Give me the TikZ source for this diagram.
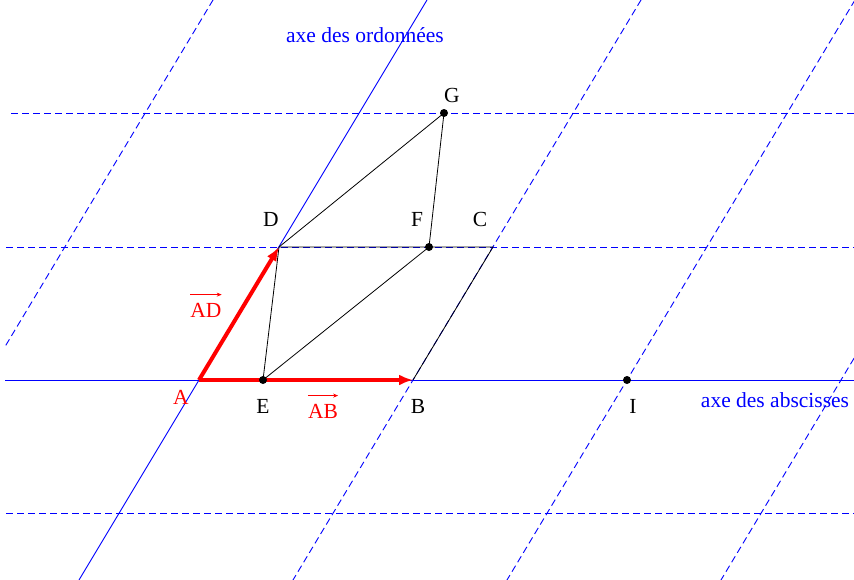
\documentclass[tikz,border=0pt]{standalone}
\usepackage{fontspec}
\setmainfont{Liberation Serif}
\usetikzlibrary{arrows.meta}
\definecolor{gridblue}{RGB}{0,0,255}
\begin{document}
\begin{tikzpicture}[x=1pt,y=-1pt,
  font=\fontsize{21.5}{26}\selectfont,
  gridline/.style={draw=gridblue, line width=0.9pt, dash pattern=on 7pt off 4pt},
  axisline/.style={draw=gridblue, line width=0.9pt},
  seg/.style={black, line width=0.8pt},
  vec/.style={red, line width=4pt, -{Latex[length=14pt,width=11pt]}},
  dot/.style={circle, fill=black, inner sep=0pt, minimum size=8pt},
  lbl/.style={inner sep=0pt, anchor=base},
  overarr/.style={red, line width=0.8pt, -{Stealth[length=5pt,width=4pt]}}]
\useasboundingbox (0,0) rectangle (854,579);
% points
\coordinate (A) at (199,380);
\coordinate (B) at (413,380);
\coordinate (C) at (493,247);
\coordinate (D) at (279,247);
\coordinate (E) at (263,380);
\coordinate (F) at (429,247);
\coordinate (G) at (444,113);
\coordinate (I) at (627,380);
% ends of the grid lines
\coordinate (h1a) at (11,113);  \coordinate (h1b) at (854,113);
\coordinate (h2a) at (6,247);   \coordinate (h2b) at (854,247);
\coordinate (h4a) at (6,513);   \coordinate (h4b) at (854,513);
\coordinate (xa) at (5,380);    \coordinate (xb) at (854,380);
\coordinate (o0a) at (-147,600); \coordinate (o0b) at (225,-20);
\coordinate (o2a) at (281,600); \coordinate (o2b) at (653,-20);
\coordinate (o3a) at (495,600); \coordinate (o3b) at (867,-20);
\coordinate (o4a) at (709,600); \coordinate (o4b) at (1081,-20);
\coordinate (ya) at (79,580);   \coordinate (yb) at (427,0);
\begin{scope}
\clip (5,0) rectangle (854,579);
\draw[gridline] (h1a) -- (h1b);
\draw[gridline] (h2a) -- (h2b);
\draw[gridline] (h4a) -- (h4b);
\draw[gridline] (o0a) -- (o0b);
\draw[gridline] (o2a) -- (o2b);
\draw[gridline] (o3a) -- (o3b);
\draw[gridline] (o4a) -- (o4b);
\draw[axisline] (xa) -- (xb);
\draw[axisline] (ya) -- (yb);
\end{scope}
% figure
\draw[seg] (D) -- (C) -- (B);
\draw[seg] (D) -- (E) -- (F) -- (G) -- (D);
\draw[vec] (A) -- (B);
\draw[vec] (A) -- (D);
\node[dot] (dE) at (E) {};
\node[dot] (dF) at (F) {};
\node[dot] (dG) at (G) {};
\node[dot] (dI) at (I) {};
% labels
\node[lbl] (lG) at (452,102) {G};
\node[lbl] (lD) at (271,226) {D};
\node[lbl] (lF) at (417,226) {F};
\node[lbl] (lC) at (480,226) {C};
\node[lbl, red] (lA) at (181,404) {A};
\node[lbl] (lE) at (263,413) {E};
\node[lbl] (lB) at (418,413) {B};
\node[lbl] (lI) at (633,413) {I};
\node[lbl, red] (lAD) at (206,317) {AD};
\draw[overarr] ([yshift=8pt]lAD.north west) -- ([yshift=8pt]lAD.north east);
\node[lbl, red] (lAB) at (323,418) {AB};
\draw[overarr] ([yshift=8pt]lAB.north west) -- ([yshift=8pt]lAB.north east);
\node[lbl, blue] (labs) at (775,407) {axe des abscisses};
\node[lbl, blue] (lord) at (365,42) {axe des ordonnées};
\end{tikzpicture}
\end{document}
